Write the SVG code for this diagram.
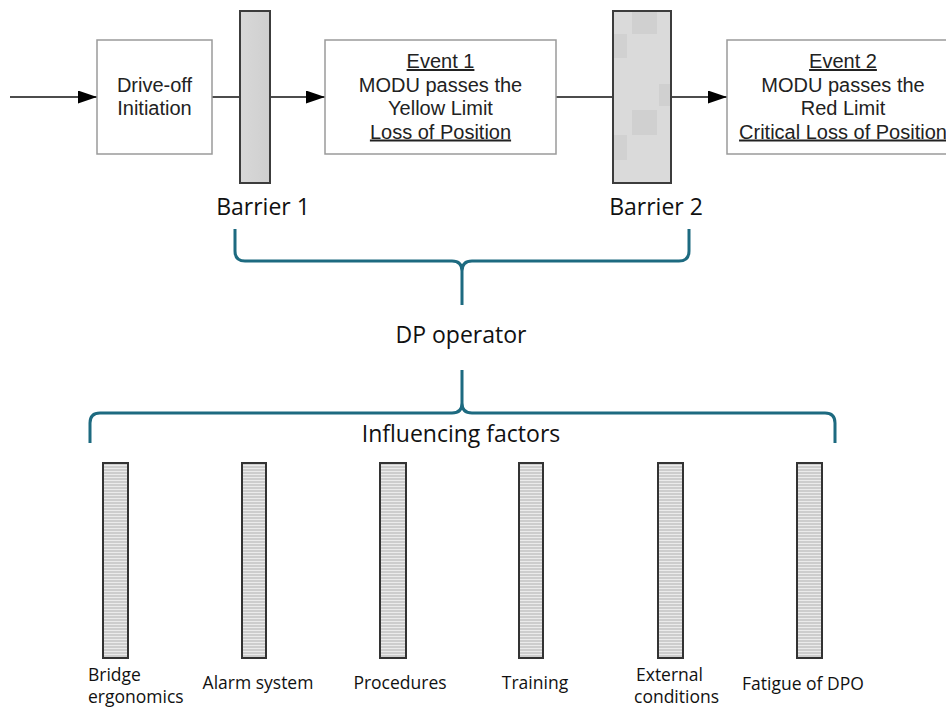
<svg xmlns="http://www.w3.org/2000/svg" width="946" height="711" viewBox="0 0 946 711">
<defs>
  <style>
    .box { fill: #ffffff; stroke: #9a9a9a; stroke-width: 1.5; }
    .barrier { stroke: #3c3c3c; stroke-width: 2; }
    .bt { font-family: "Liberation Sans", Arial, sans-serif; font-size: 20px; fill: #222; text-anchor: middle; }
    .u { text-decoration: underline; }
    .lbl { font-family: "Open Sans", "Noto Sans", sans-serif; font-size: 23px; fill: #111; }
    .sm { font-family: "Open Sans", "Noto Sans", sans-serif; font-size: 17.5px; fill: #111; }
    .conn { stroke: #111; stroke-width: 1.5; fill: none; }
    .brace { stroke: #1d6a80; stroke-width: 3; fill: none; stroke-linecap: butt; }
    .factor { fill: url(#hatch); stroke: #333; stroke-width: 2; }
  </style>
  <marker id="arr" markerWidth="19" markerHeight="13" refX="19" refY="6.5" orient="auto" markerUnits="userSpaceOnUse">
    <path d="M0,0 L19,6.5 L0,13 Z" fill="#000"/>
  </marker>
  <pattern id="hatch" width="6" height="3" patternUnits="userSpaceOnUse">
    <rect width="6" height="3" fill="#cdcdcd"/>
    <rect y="0" width="6" height="1" fill="#ebebeb"/>
  </pattern>
  <linearGradient id="b1g" x1="0" x2="1" y1="0" y2="0">
    <stop offset="0" stop-color="#d8d8d8"/>
    <stop offset="1" stop-color="#cfcfcf"/>
  </linearGradient>
</defs>

<g id="connectors">
  <line class="conn" x1="10" y1="97" x2="97" y2="97" marker-end="url(#arr)"/>
  <line class="conn" x1="212" y1="97" x2="240" y2="97"/>
  <line class="conn" x1="270" y1="97" x2="325" y2="97" marker-end="url(#arr)"/>
  <line class="conn" x1="556" y1="97" x2="613" y2="97"/>
  <line class="conn" x1="671" y1="97" x2="727" y2="97" marker-end="url(#arr)"/>
</g>

<g id="drive-off">
  <rect class="box" x="97" y="40" width="115" height="114"/>
  <text class="bt" x="154.5" y="92">Drive-off</text>
  <text class="bt" x="154.5" y="115">Initiation</text>
</g>

<g id="barrier1">
  <rect class="barrier" x="240" y="11" width="30" height="172" fill="url(#b1g)"/>
  <text class="lbl" x="263" y="215" text-anchor="middle">Barrier 1</text>
</g>

<g id="event1">
  <rect class="box" x="325" y="40" width="231" height="114"/>
  <text class="bt u" x="440.5" y="68">Event 1</text>
  <text class="bt" x="440.5" y="91.5">MODU passes the</text>
  <text class="bt" x="440.5" y="115">Yellow Limit</text>
  <text class="bt u" x="440.5" y="138.5">Loss of Position</text>
</g>

<g id="barrier2">
  <rect x="613" y="11" width="58" height="172" fill="#dadada"/>
  <rect x="632" y="12" width="25" height="22" fill="#d0d0d0"/>
  <rect x="614" y="34" width="13" height="24" fill="#d1d1d1"/>
  <rect x="659" y="84" width="12" height="22" fill="#d0d0d0"/>
  <rect x="632" y="110" width="25" height="25" fill="#d0d0d0"/>
  <rect x="614" y="135" width="13" height="25" fill="#d1d1d1"/>
  <rect class="barrier" x="613" y="11" width="58" height="172" fill="none"/>
  <text class="lbl" x="656" y="215" text-anchor="middle">Barrier 2</text>
</g>

<g id="event2">
  <rect class="box" x="727" y="40" width="240" height="114"/>
  <text class="bt u" x="843" y="68">Event 2</text>
  <text class="bt" x="843" y="91.5">MODU passes the</text>
  <text class="bt" x="843" y="115">Red Limit</text>
  <text class="bt u" x="843" y="138.5">Critical Loss of Position</text>
</g>

<g id="brace-barriers">
  <path class="brace" d="M235,229 V251 Q235,261 245,261 H452 Q462,261 462,271 V305 M462,271 Q462,261 472,261 H679 Q689,261 689,251 V229"/>
</g>

<g id="dp-operator">
  <text class="lbl" x="461" y="343" text-anchor="middle">DP operator</text>
</g>

<g id="brace-factors">
  <path class="brace" d="M90,443 V423 Q90,413 100,413 H452 Q462,413 462,403 V370 M462,403 Q462,413 472,413 H825 Q835,413 835,423 V443"/>
  <text class="lbl" x="461" y="442" text-anchor="middle">Influencing factors</text>
</g>

<g id="factor-bridge">
  <rect class="factor" x="103" y="463" width="25" height="195"/>
  <text class="sm" x="88" y="681">Bridge</text>
  <text class="sm" x="88" y="703">ergonomics</text>
</g>
<g id="factor-alarm">
  <rect class="factor" x="242" y="463" width="24" height="195"/>
  <text class="sm" x="258" y="689" text-anchor="middle">Alarm system</text>
</g>
<g id="factor-procedures">
  <rect class="factor" x="380" y="463" width="26" height="195"/>
  <text class="sm" x="400" y="689" text-anchor="middle">Procedures</text>
</g>
<g id="factor-training">
  <rect class="factor" x="519" y="463" width="24" height="195"/>
  <text class="sm" x="535" y="689" text-anchor="middle">Training</text>
</g>
<g id="factor-external">
  <rect class="factor" x="658" y="463" width="25" height="195"/>
  <text class="sm" x="636" y="681">External</text>
  <text class="sm" x="634" y="703">conditions</text>
</g>
<g id="factor-fatigue">
  <rect class="factor" x="797" y="463" width="25" height="195"/>
  <text class="sm" x="803" y="690" text-anchor="middle">Fatigue of DPO</text>
</g>
</svg>
